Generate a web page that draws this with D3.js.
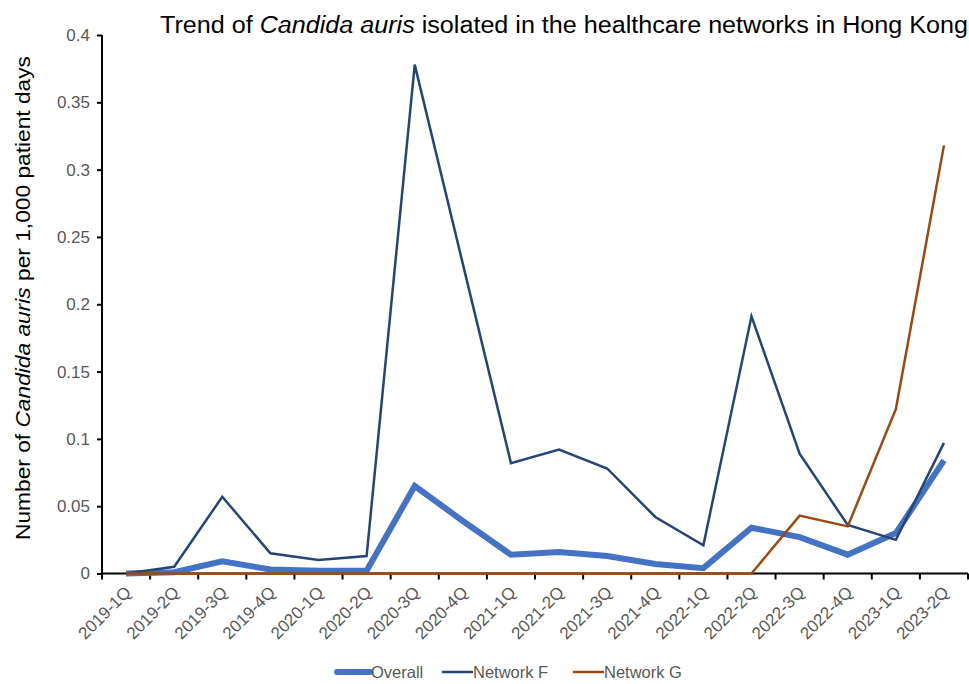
<!DOCTYPE html>
<html><head><meta charset="utf-8">
<script src="https://cdn.jsdelivr.net/npm/d3@7"></script>
<style>body{margin:0;background:#fff}svg{display:block}text{font-family:"Liberation Sans",Arial,sans-serif}</style>
</head><body>
<svg id="c" width="969" height="684"></svg>
<script>
const quarters = ["2019-1Q","2019-2Q","2019-3Q","2019-4Q","2020-1Q","2020-2Q","2020-3Q","2020-4Q","2021-1Q","2021-2Q","2021-3Q","2021-4Q","2022-1Q","2022-2Q","2022-3Q","2022-4Q","2023-1Q","2023-2Q"];
const overall  = [0, 0.001, 0.009, 0.003, 0.002, 0.002, 0.065, 0.039, 0.014, 0.016, 0.013, 0.007, 0.004, 0.034, 0.027, 0.014, 0.030, 0.084];
const networkF = [0, 0.005, 0.057, 0.015, 0.010, 0.013, 0.378, 0.230, 0.082, 0.092, 0.078, 0.042, 0.021, 0.191, 0.089, 0.036, 0.025, 0.097];
const networkG = [0, 0, 0, 0, 0, 0, 0, 0, 0, 0, 0, 0, 0, 0, 0.043, 0.035, 0.122, 0.318];
const yTicks = [0, 0.05, 0.1, 0.15, 0.2, 0.25, 0.3, 0.35, 0.4];
const seriesNames = ["Overall", "Network F", "Network G"];

const series = [
  {name: seriesNames[0], values: overall, color: "#4472C4", width: 6},
  {name: seriesNames[1], values: networkF, color: "#264478", width: 2.5},
  {name: seriesNames[2], values: networkG, color: "#9E480E", width: 2.5}
];

const svg = d3.select("#c");
const L = 102, R = 968, T = 35, B = 573.5;
const x = d3.scaleBand().domain(quarters).range([L, R]);
const y = d3.scaleLinear().domain([0, 0.4]).range([B, T]);
const grey = "#595959";

// Y axis
const ya = svg.append("g").attr("transform", `translate(${L},0)`)
  .call(d3.axisLeft(y).tickValues(yTicks).tickSize(5).tickPadding(7).tickFormat(d => d === 0 ? "0" : String(+d.toFixed(2))));
ya.select(".domain").attr("stroke", "#000").attr("stroke-width", 2).attr("d", `M0,${T}V${B}`);
ya.selectAll(".tick line").attr("stroke", "#000").attr("stroke-width", 2);
ya.selectAll(".tick text").attr("fill", grey).style("font-size", "17px").style("font-family", "Liberation Sans, Arial, sans-serif");

// X axis
const xa = svg.append("g").attr("transform", `translate(0,${B})`)
  .call(d3.axisBottom(x).tickSize(0).tickPadding(0));
xa.select(".domain").remove();
xa.selectAll(".tick text").attr("fill", grey).style("font-size", "17px")
  .style("font-family", "Liberation Sans, Arial, sans-serif")
  .attr("text-anchor", "end").attr("dy", null)
  .attr("transform", "translate(6,20) rotate(-45)");
const bounds = quarters.map(q => x(q)).concat([R]);
svg.append("g").selectAll("line").data(bounds).join("line")
  .attr("x1", d => d).attr("x2", d => d).attr("y1", B).attr("y2", B + 6)
  .attr("stroke", "#000").attr("stroke-width", 2);
svg.append("line").attr("x1", L - 1).attr("x2", R).attr("y1", B).attr("y2", B)
  .attr("stroke", "#000").attr("stroke-width", 2);

// Lines
const line = d3.line().x((d, i) => x(quarters[i]) + x.bandwidth() / 2).y(d => y(d));
svg.append("g").selectAll("path").data(series).join("path")
  .attr("d", d => line(d.values)).attr("fill", "none")
  .attr("stroke", d => d.color).attr("stroke-width", d => d.width)
  .attr("stroke-linejoin", "miter").attr("stroke-linecap", "butt");

// Title
const title = svg.append("text").attr("x", 160).attr("y", 33)
  .attr("textLength", 808).attr("lengthAdjust", "spacingAndGlyphs")
  .style("font-size", "23px").attr("fill", "#000");
title.append("tspan").text("Trend of ");
title.append("tspan").style("font-style", "italic").text("Candida auris");
title.append("tspan").text(" isolated in the healthcare networks in Hong Kong");

// Y title
const yt = svg.append("text").attr("transform", "translate(30,298) rotate(-90)")
  .attr("text-anchor", "middle").style("font-size", "21px").attr("fill", "#000")
  .attr("textLength", 484).attr("lengthAdjust", "spacingAndGlyphs");
yt.append("tspan").text("Number of ");
yt.append("tspan").style("font-style", "italic").text("Candida auris");
yt.append("tspan").text(" per 1,000 patient days");

// Legend
const legX = [337, 443, 574];
const legLen = [33, 29, 29];
const lg = svg.append("g").selectAll("g").data(series).join("g")
  .attr("transform", (d, i) => `translate(${legX[i]},672)`);
lg.append("line").attr("x1", 0).attr("x2", (d, i) => legLen[i]).attr("y1", 0).attr("y2", 0)
  .attr("stroke", d => d.color).attr("stroke-width", d => d.width).attr("stroke-linecap", "round");
lg.append("text").attr("x", (d, i) => legLen[i] + 1).attr("dy", "0.35em").style("font-size", "16.5px")
  .attr("fill", grey).text(d => d.name);
</script>
</body></html>
